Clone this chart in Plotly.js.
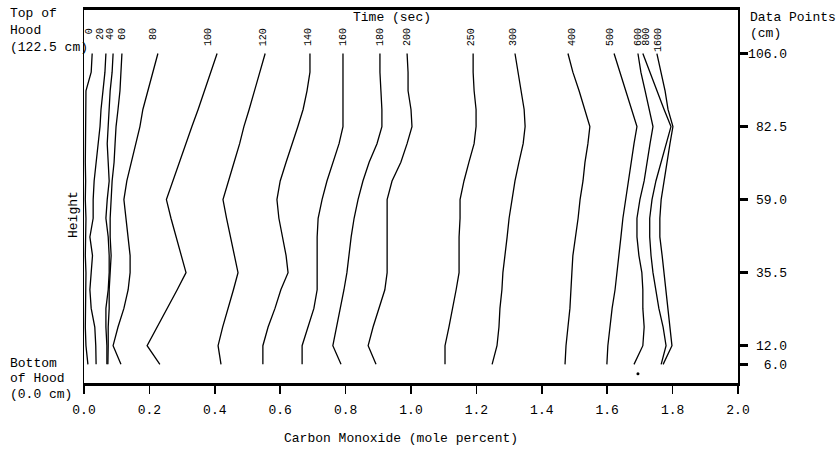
<!DOCTYPE html>
<html><head><meta charset="utf-8">
<script src="https://cdn.plot.ly/plotly-3.0.1.min.js"></script>
<style>html,body{margin:0;padding:0;background:#fff}#chart{width:839px;height:449px}</style>
</head><body><div id="chart"></div>
<script>
// Heights (cm) at which the profiles were read
const heights = [106,100,94,88,82.5,77,71,65,59,53,47,41,35.5,30,24,18,12,6];
// Time labels (sec)
const times = ['0','20','40','60','80','100','120','140','160','180','200','250','300','400','500','600','800','1600'];
// CO mole percent profiles, one array per time
const co_t0    = [0.025,0.022,0.006,0.005,0.005,0.004,0.004,0.005,0.004,0.006,0.005,0.004,0.006,0.005,0.006,0.004,0.006,0.012];
const co_t20   = [0.067,0.064,0.058,0.052,0.049,0.043,0.037,0.031,0.028,0.028,0.018,0.026,0.022,0.018,0.022,0.033,0.036,0.037];
const co_t40   = [0.089,0.086,0.080,0.077,0.074,0.071,0.074,0.077,0.071,0.067,0.074,0.077,0.077,0.074,0.067,0.067,0.070,0.070];
const co_t60   = [0.116,0.113,0.110,0.104,0.098,0.095,0.092,0.086,0.083,0.080,0.080,0.083,0.080,0.077,0.077,0.074,0.074,0.073];
const co_t80   = [0.226,0.211,0.196,0.180,0.171,0.159,0.144,0.131,0.122,0.128,0.135,0.141,0.141,0.135,0.122,0.104,0.089,0.113];
const co_t100  = [0.407,0.388,0.369,0.349,0.330,0.312,0.292,0.272,0.252,0.266,0.281,0.297,0.312,0.285,0.254,0.223,0.193,0.232];
const co_t120  = [0.554,0.538,0.523,0.505,0.489,0.476,0.459,0.443,0.425,0.436,0.448,0.460,0.471,0.457,0.440,0.424,0.410,0.419];
const co_t140  = [0.691,0.691,0.682,0.670,0.654,0.636,0.618,0.600,0.590,0.596,0.606,0.618,0.624,0.602,0.584,0.563,0.547,0.547];
const co_t160  = [0.792,0.792,0.792,0.792,0.792,0.780,0.761,0.743,0.728,0.716,0.713,0.713,0.713,0.713,0.703,0.685,0.667,0.667];
const co_t180  = [0.905,0.905,0.908,0.911,0.911,0.896,0.872,0.853,0.838,0.826,0.817,0.810,0.804,0.795,0.783,0.771,0.761,0.786];
const co_t200  = [0.988,0.991,0.991,1.000,1.003,0.988,0.969,0.942,0.927,0.927,0.927,0.927,0.927,0.920,0.902,0.884,0.869,0.893];
const co_t250  = [1.190,1.190,1.193,1.199,1.199,1.193,1.177,1.162,1.150,1.150,1.147,1.147,1.147,1.138,1.128,1.116,1.104,1.104];
const co_t300  = [1.318,1.327,1.336,1.346,1.349,1.343,1.330,1.318,1.309,1.300,1.294,1.288,1.281,1.278,1.272,1.269,1.263,1.248];
const co_t400  = [1.480,1.495,1.514,1.532,1.547,1.541,1.532,1.526,1.517,1.511,1.502,1.495,1.492,1.489,1.486,1.480,1.474,1.471];
const co_t500  = [1.621,1.639,1.657,1.676,1.691,1.682,1.673,1.664,1.657,1.648,1.642,1.636,1.630,1.624,1.615,1.609,1.602,1.599];
const co_t600  = [1.694,1.703,1.716,1.728,1.740,1.731,1.722,1.713,1.700,1.691,1.691,1.697,1.706,1.709,1.709,1.713,1.709,1.682];
const co_t800  = [1.709,1.730,1.752,1.774,1.795,1.780,1.765,1.749,1.737,1.730,1.730,1.734,1.740,1.749,1.758,1.771,1.780,1.765];
const co_t1600 = [1.752,1.765,1.777,1.786,1.801,1.792,1.783,1.774,1.765,1.761,1.761,1.768,1.774,1.780,1.786,1.792,1.798,1.771];
// stray plotted point near the bottom
const dotX = [1.694];
const dotY = [3];
// tick labels
const xTickVals = [0,0.2,0.4,0.6,0.8,1.0,1.2,1.4,1.6,1.8,2.0];
const xTickText = ['0.0','0.2','0.4','0.6','0.8','1.0','1.2','1.4','1.6','1.8','2.0'];
const yTickVals = [6,12,35.5,59,82.5,106];
const yTickText = ['6.0','12.0','35.5','59.0','82.5','106.0'];

const profiles = [co_t0,co_t20,co_t40,co_t60,co_t80,co_t100,co_t120,co_t140,co_t160,co_t180,co_t200,co_t250,co_t300,co_t400,co_t500,co_t600,co_t800,co_t1600];

// styling
const FONT = 'Liberation Mono, Courier New, monospace';
const labelShift = [-3,-6,-3,0,-5,-9,-2,-2,0,0,0,-2,-2,4,-4,0,3,1];

const traces = profiles.map((p, i) => ({
  x: p, y: heights, type: 'scatter', mode: 'lines', name: times[i],
  line: {color: '#000', width: 1.3}, hoverinfo: 'skip', showlegend: false
}));
traces.push({x: dotX, y: dotY, type: 'scatter', mode: 'markers',
  marker: {color: '#000', size: 3}, hoverinfo: 'skip', showlegend: false});

const maxLen = Math.max(...yTickText.map(s => s.length));
const yTickPadded = yTickText.map(s => '\u00a0'.repeat(maxLen - s.length) + s);

const annotations = profiles.map((p, i) => ({
  x: p[0], xref: 'x', y: 0.9571, yref: 'paper', text: times[i],
  textangle: -90, showarrow: false, xanchor: 'center', yanchor: 'top',
  xshift: labelShift[i], font: {family: FONT, size: 10, color: '#000'}
}));
const txt = (text, x, y, xa, ya, extra) => Object.assign({text, x, y, xref: 'paper', yref: 'paper',
  xanchor: xa, yanchor: ya, showarrow: false, align: 'left',
  font: {family: FONT, size: 13, color: '#000'}}, extra || {});
annotations.push(txt('Time (sec)', 0.4709, 0.9812, 'center', 'middle'));
annotations.push(txt('Top of', -0.1162, 0.9893, 'left', 'middle'));
annotations.push(txt('Hood', -0.1162, 0.9437, 'left', 'middle'));
annotations.push(txt('(122.5 cm)', -0.1162, 0.9008, 'left', 'middle'));
annotations.push(txt('Bottom', -0.1162, 0.0536, 'left', 'middle'));
annotations.push(txt('of Hood', -0.1162, 0.0134, 'left', 'middle'));
annotations.push(txt('(0.0 cm)', -0.1162, -0.0295, 'left', 'middle'));
annotations.push(txt('Data Points', 1.0153, 0.9812, 'left', 'middle'));
annotations.push(txt('(cm)', 1.0153, 0.9383, 'left', 'middle'));
annotations.push(txt('Height', -0.0168, 0.4504, 'center', 'middle', {textangle: -90}));
annotations.push(txt('Carbon Monoxide (mole percent)', 0.4847, -0.1475, 'center', 'middle'));

const layout = {
  width: 839, height: 449,
  margin: {l: 84, r: 101, t: 10, b: 66, pad: 0},
  paper_bgcolor: '#fff', plot_bgcolor: '#fff',
  font: {family: FONT, size: 13, color: '#000'},
  showlegend: false,
  xaxis: {range: [0, 2], tickvals: xTickVals, ticktext: xTickText,
    ticks: 'outside', ticklen: 8, tickwidth: 1.5, tickcolor: '#000',
    showline: true, linewidth: 3, linecolor: '#000', mirror: true,
    showgrid: false, zeroline: false, tickfont: {family: FONT, size: 13, color: '#000'},
    ticklabelstandoff: 4, fixedrange: true},
  yaxis: {range: [0, 120], side: 'right', tickvals: yTickVals, ticktext: yTickPadded,
    ticks: 'outside', ticklen: 8, tickwidth: 2.5, tickcolor: '#000',
    showline: true, linewidth: 1.5, linecolor: '#000', mirror: true,
    showgrid: false, zeroline: false, tickfont: {family: FONT, size: 13, color: '#000'},
    ticklabelstandoff: -2, fixedrange: true},
  annotations: annotations
};

Plotly.newPlot('chart', traces, layout, {displayModeBar: false, staticPlot: true});
</script>
</body></html>
